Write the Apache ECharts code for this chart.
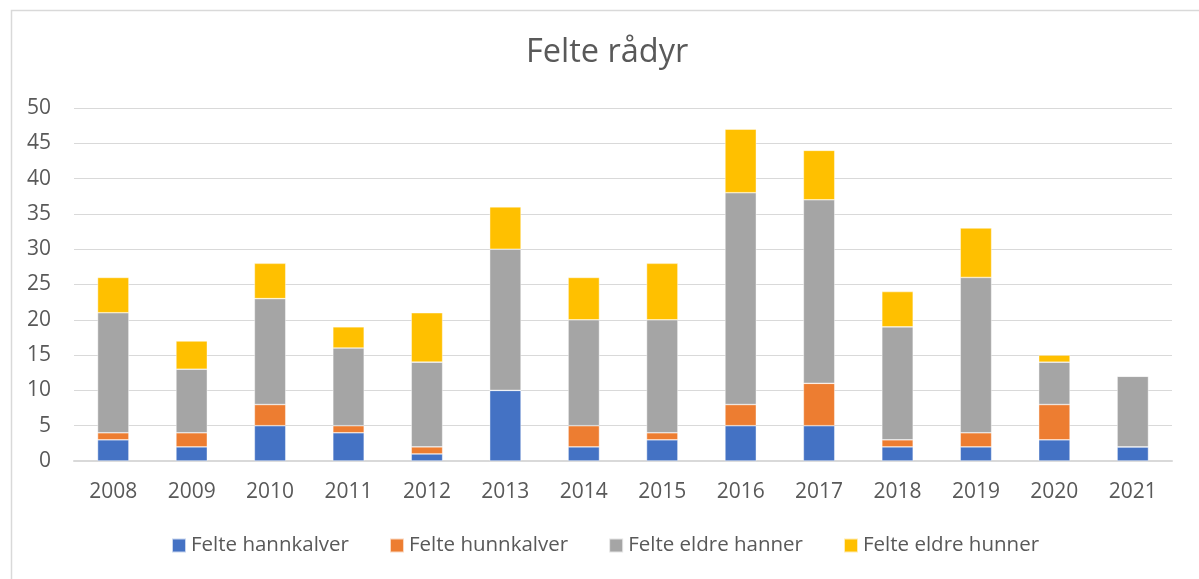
<!DOCTYPE html>
<html>
<head>
<meta charset="utf-8">
<script src="https://cdn.jsdelivr.net/npm/echarts@6/dist/echarts.min.js"></script>
<style>
  html, body { margin: 0; padding: 0; background: #fff; }
  #chart { width: 1199px; height: 579px; }
</style>
</head>
<body>
<div id="chart"></div>
<script>
// Felte rådyr per år
const years = ['2008', '2009', '2010', '2011', '2012', '2013', '2014', '2015', '2016', '2017', '2018', '2019', '2020', '2021'];
const hannkalver   = [3, 2, 5, 4, 1, 10, 2, 3, 5, 5, 2, 2, 3, 2];
const hunnkalver   = [1, 2, 3, 1, 1, 0, 3, 1, 3, 6, 1, 2, 5, 0];
const eldreHanner  = [17, 9, 15, 11, 12, 20, 15, 16, 30, 26, 16, 22, 6, 10];
const eldreHunner  = [5, 4, 5, 3, 7, 6, 6, 8, 9, 7, 5, 7, 1, 0];
const yTicks = [0, 5, 10, 15, 20, 25, 30, 35, 40, 45, 50];

const font = '"Open Sans", "Noto Sans", sans-serif';
const textColor = '#595959';

function drawFelteChart() {
    const chart = echarts.init(document.getElementById('chart'));

    const seriesDefs = [
        { name: 'Felte hannkalver', data: hannkalver, color: '#4472C4' },
        { name: 'Felte hunnkalver', data: hunnkalver, color: '#ED7D31' },
        { name: 'Felte eldre hanner', data: eldreHanner, color: '#A5A5A5' },
        { name: 'Felte eldre hunner', data: eldreHunner, color: '#FFC000' }
    ];

    const series = seriesDefs.map(s => ({
        name: s.name,
        type: 'bar',
        stack: 'total',
        barCategoryGap: '60%',
        data: s.data,
        itemStyle: {
            color: s.color,
            borderColor: 'rgba(255,255,255,0.7)',
            borderWidth: 0.6
        }
    }));

    const option = {
        animation: false,
        graphic: [{
            type: 'rect',
            left: 9,
            top: 8,
            shape: { width: 1400, height: 800 },
            style: { fill: 'none', stroke: '#d9d9d9', lineWidth: 1.5 },
            silent: true
        }],
        title: {
            text: 'Felte rådyr',
            left: 521,
            top: 31,
            textStyle: {
                fontFamily: font,
                fontSize: 32.5,
                fontWeight: 'normal',
                color: textColor
            }
        },
        legend: {
            left: 166,
            top: 530,
            itemWidth: 14,
            itemHeight: 14,
            itemGap: 40,
            icon: 'rect',
            textStyle: {
                fontFamily: font,
                fontSize: 20.5,
                color: textColor
            }
        },
        grid: {
            left: 74,
            right: 27,
            top: 108,
            bottom: 118
        },
        xAxis: {
            type: 'category',
            data: years,
            axisTick: { show: false },
            axisLine: { lineStyle: { color: '#d9d9d9', width: 2 } },
            axisLabel: {
                fontFamily: font,
                fontSize: 21,
                color: textColor,
                margin: 21
            }
        },
        yAxis: {
            type: 'value',
            min: yTicks[0],
            max: yTicks[yTicks.length - 1],
            interval: 5,
            axisLine: { show: false },
            axisTick: { show: false },
            splitLine: { lineStyle: { color: '#d9d9d9', width: 1.2 } },
            axisLabel: {
                fontFamily: font,
                fontSize: 21,
                color: textColor,
                margin: 23
            }
        },
        series: series
    };

    chart.setOption(option);
}

drawFelteChart();
</script>
</body>
</html>
